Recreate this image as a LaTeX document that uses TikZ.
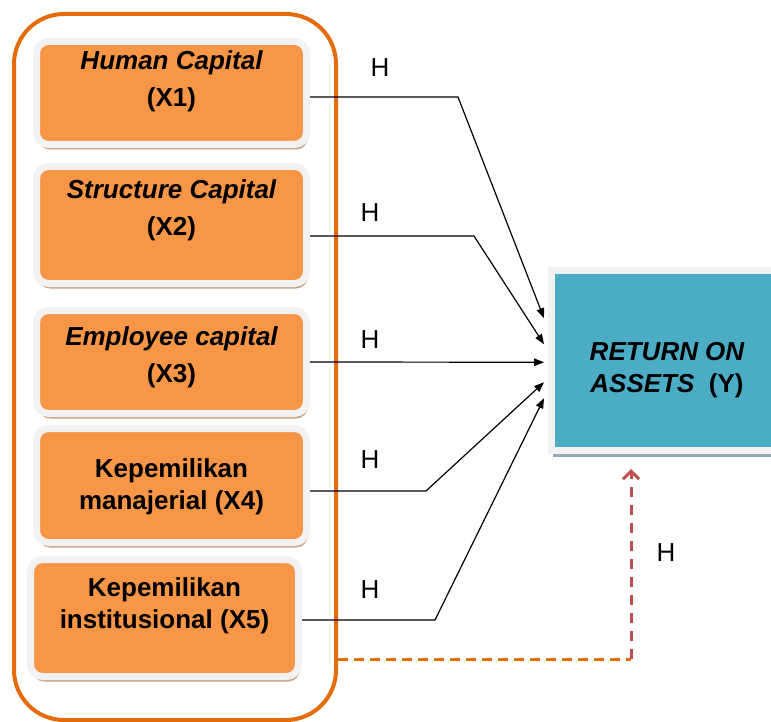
\documentclass[tikz,border=0pt]{standalone}
\usepackage{fontspec}
\setmainfont{Liberation Sans}
\usetikzlibrary{arrows.meta,shadows,calc}
\definecolor{grpline}{HTML}{E46C0A}
\definecolor{boxfill}{HTML}{F79646}
\definecolor{frameclr}{HTML}{F2F2F2}
\definecolor{shbrown}{HTML}{C9A486}
\definecolor{shblue}{HTML}{93AAB5}
\definecolor{roablue}{HTML}{4BACC6}
\definecolor{dashred}{HTML}{C0504D}
\tikzset{
  varbox/.style={draw=frameclr, line width=7pt, fill=boxfill, rounded corners=12pt,
    minimum width=270pt, inner sep=0pt,
    drop shadow={shadow xshift=1.5pt, shadow yshift=-5pt, fill=shbrown, opacity=1}},
  vartext/.style={font=\fontsize{26}{37}\selectfont\bfseries, align=center, inner sep=0pt},
  hlabel/.style={font=\fontsize{26}{30}\selectfont, inner sep=0pt},
  link/.style={line width=1.2pt, -{Triangle[length=10pt,width=7.5pt]}},
}
\begin{document}
\begin{tikzpicture}[x=1pt,y=-1pt]
\useasboundingbox (0,0) rectangle (771,722);
% outer group
\node[draw=grpline, line width=4pt, rounded corners=50pt, minimum width=322pt,
  minimum height=706pt, inner sep=0pt] (group) at (175,367) {};
% variable boxes
\node[varbox, minimum height=103pt] (b1) at (171.5,93) {};
\node[varbox, minimum height=117pt] (b2) at (171.5,225) {};
\node[varbox, minimum height=103pt] (b3) at (171.5,362) {};
\node[varbox, minimum height=114pt] (b4) at (171.5,485.5) {};
\node[varbox, minimum height=117pt, minimum width=268pt] (b5) at (164.5,618) {};
\node[vartext] (t1) at (171.5,81.5) {\itshape Human Capital\\(X1)};
\node[vartext] (t2) at (171.5,210) {\itshape Structure Capital\\(X2)};
\node[vartext] (t3) at (171.5,357.5) {\itshape Employee capital\\(X3)};
\node[vartext, font=\fontsize{26}{32}\selectfont\bfseries] (t4) at (171.5,487) {Kepemilikan\\manajerial (X4)};
\node[vartext, font=\fontsize{26}{32}\selectfont\bfseries] (t5) at (164.5,606) {Kepemilikan\\institusional (X5)};
% target
\node[draw=frameclr, line width=7pt, fill=roablue, minimum width=231pt, minimum height=180.5pt,
  inner sep=0pt, drop shadow={shadow xshift=1pt, shadow yshift=-6pt, fill=shblue, opacity=1}]
  (roa) at (667,360.25) {};
\node[vartext, font=\fontsize{26}{32}\selectfont\bfseries] (troa) at (667,370)
  {\itshape RETURN ON\\\itshape ASSETS\ \ \upshape(Y)};
% connectors
\coordinate (k1) at (458,97);
\coordinate (k2) at (474,236);
\coordinate (k4) at (426,491);
\coordinate (k5) at (435,620);
\draw[link] ($(b1.east)+(0,4)$) -- (k1) -- ($(roa.west)+(-4,-42)$);
\draw[link] ($(b2.east)+(0,11)$) -- (k2) -- ($(roa.west)+(-4,-16)$);
\draw[link] (b3.east) -- ($(roa.west)+(-4,2)$);
\draw[link] ($(b4.east)+(0,5.5)$) -- (k4) -- ($(roa.west)+(-4,22)$);
\draw[link] ($(b5.east)+(0,2)$) -- (k5) -- ($(roa.west)+(-4,38)$);
% dashed link
\coordinate (dc) at (631,659);
\draw[grpline, line width=3pt, dash pattern=on 10pt off 6pt] (group.east |- dc) -- (dc);
\draw[dashred, line width=3pt, dash pattern=on 10pt off 8pt, -{Straight Barb[length=8pt,width=16pt]}]
  (dc) -- ($(dc |- roa.south)+(0,15)$);
% H labels
\node[hlabel] (h1) at (380,68) {H};
\node[hlabel] (h2) at (370,213) {H};
\node[hlabel] (h3) at (370,340) {H};
\node[hlabel] (h4) at (370,460) {H};
\node[hlabel] (h5) at (370,590) {H};
\node[hlabel] (h6) at (666,553) {H};
\end{tikzpicture}
\end{document}
